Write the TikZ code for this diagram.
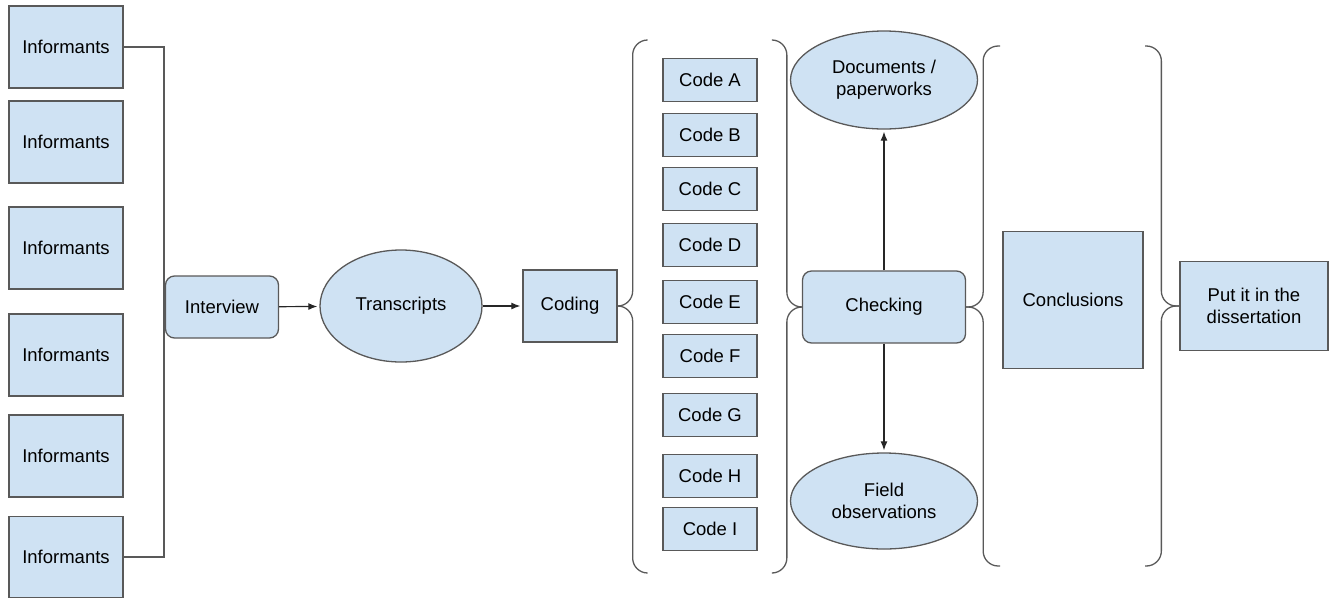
\documentclass[tikz,border=0pt]{standalone}
\usepackage{fontspec}
\setmainfont{Liberation Sans}
\usetikzlibrary{shapes.geometric,arrows.meta}
\definecolor{boxblue}{HTML}{CFE2F3}
\definecolor{edgegray}{HTML}{595959}

\begin{document}
\begin{tikzpicture}[x=1pt,y=-1pt,
  every node/.style={font=\fontsize{18.5}{22}\selectfont, text=black},
  box/.style={draw=edgegray, fill=boxblue, line width=1.3pt, inner sep=0pt, align=center},
  rbox/.style={box, rounded corners=9pt},
  oval/.style={box, ellipse},
  conn/.style={draw=edgegray, line width=1.3pt},
  arr/.style={draw=black!85, line width=1.2pt, -{Latex[length=9pt,width=7pt]}, shorten >=2pt},
  brace/.style={draw=edgegray, line width=1.3pt, rounded corners=15pt}]
  \useasboundingbox (0,0) rectangle (1335,598);

  % informants and the line that joins them
  \node[box, minimum width=114, minimum height=82] (inf1) at (66,47) {Informants};
  \node[box, minimum width=114, minimum height=82] (inf2) at (66,142) {Informants};
  \node[box, minimum width=114, minimum height=82] (inf3) at (66,248) {Informants};
  \node[box, minimum width=114, minimum height=82] (inf4) at (66,355) {Informants};
  \node[box, minimum width=114, minimum height=82] (inf5) at (66,456) {Informants};
  \node[box, minimum width=114, minimum height=81] (inf6) at (66,557) {Informants};
  \coordinate (bustop) at (164,47);
  \coordinate (busbot) at (164,557);
  \draw[conn] (inf1.east) -- (bustop) -- (busbot) -- (inf6.east);

  \node[rbox, minimum width=113, minimum height=62] (interview) at (222,307) {Interview};
  \node[oval, minimum width=162, minimum height=112] (transcripts) at (401,306) {Transcripts};
  \node[box, minimum width=94, minimum height=72] (coding) at (570,306) {Coding};

  \draw[arr] (interview) -- (transcripts);
  \draw[arr] (transcripts) -- (coding);

  % codes
  \foreach \name/\y in {A/80,B/135,C/189,D/245,E/302,F/356,G/415,H/476,I/529}
    \node[box, minimum width=94, minimum height=43] (code\name) at (710,\y) {Code \name};

  \node[rbox, minimum width=163, minimum height=72] (checking) at (884,307) {Checking};
  \node[oval, minimum width=187, minimum height=98] (documents) at (884,80) {Documents /\\paperworks};
  \node[oval, minimum width=187, minimum height=96] (field) at (884,501) {Field\\observations};

  \draw[arr] (checking) -- (documents);
  \draw[arr] (checking) -- (field);

  \node[box, minimum width=140, minimum height=137] (conclusions) at (1073,300) {Conclusions};
  \node[box, minimum width=148, minimum height=89] (dissertation) at (1254,306) {Put it in the\\dissertation};

  % braces
  \draw[brace] (647,40) -| ([xshift=15pt]coding.east) -- (coding.east);
  \draw[brace] (647,573) -| ([xshift=15pt]coding.east) -- (coding.east);
  \draw[brace] (773,40) -| ([xshift=-15pt]checking.west) -- (checking.west);
  \draw[brace] (773,573) -| ([xshift=-15pt]checking.west) -- (checking.west);
  \draw[brace] (1000,46) -| ([xshift=17pt]checking.east) -- (checking.east);
  \draw[brace] (1000,566) -| ([xshift=17pt]checking.east) -- (checking.east);
  \draw[brace] (1145,46) -| ([xshift=-18pt]dissertation.west) -- (dissertation.west);
  \draw[brace] (1145,566) -| ([xshift=-18pt]dissertation.west) -- (dissertation.west);
\end{tikzpicture}
\end{document}
